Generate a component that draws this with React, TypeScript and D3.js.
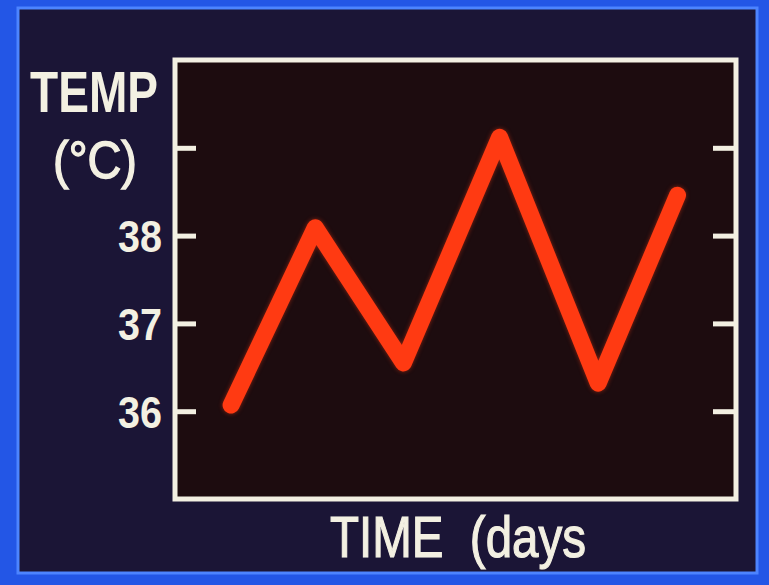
import React, { useEffect, useRef } from 'react';
import * as d3 from 'd3';

// readings
const days = [0.7, 1.75, 2.85, 4.05, 5.28, 6.27];
const temps = [36.07, 38.09, 36.55, 39.12, 36.32, 38.46];
const tempTicks = [36, 37, 38, 39];
const labelledTicks = [36, 37, 38];

const W = 769;
const H = 585;

const App: React.FC = () => {
  const svgRef = useRef<SVGSVGElement>(null);

  useEffect(() => {
    if (!svgRef.current) return;
    const svg = d3.select(svgRef.current);
    svg.selectAll('*').remove();

    const frame = { left: 175, right: 736, top: 60, bottom: 499 };
    const ink = '#f3f0e2';
    const font = '"Liberation Sans", Arial, Helvetica, sans-serif';

    // slide background: blue mount + dark field
    svg.append('rect').attr('width', W).attr('height', H).attr('fill', '#2356e6');
    svg.append('rect')
      .attr('x', 18).attr('y', 8)
      .attr('width', 757 - 18).attr('height', 573 - 8)
      .attr('fill', '#1b1536')
      .attr('stroke', '#4d84ff')
      .attr('stroke-width', 3);

    const x = d3.scaleLinear().domain([0, 7]).range([frame.left, frame.right]);
    const y = d3.scaleLinear().domain([35, 40]).range([frame.bottom, frame.top]);

    // plot field
    svg.append('rect')
      .attr('x', frame.left).attr('y', frame.top)
      .attr('width', frame.right - frame.left)
      .attr('height', frame.bottom - frame.top)
      .attr('fill', '#1d0c0f');

    // left axis, inward ticks
    const left = svg.append('g')
      .attr('transform', `translate(${frame.left},0)`)
      .call(
        d3.axisLeft(y)
          .tickValues(tempTicks)
          .tickSize(-21)
          .tickPadding(13)
          .tickFormat(d => (labelledTicks.includes(d as number) ? String(d) : ''))
      );
    left.select('.domain').remove();
    left.selectAll('line').attr('stroke', ink).attr('stroke-width', 5);
    left.selectAll('text')
      .attr('fill', ink)
      .attr('dy', '0.36em')
      .style('font-family', font)
      .style('font-size', '44px')
      .style('font-weight', 'bold')
      .attr('textLength', function () { return (this as SVGTextElement).textContent ? 44 : 0; })
      .attr('lengthAdjust', 'spacingAndGlyphs');

    // right axis, ticks only
    const right = svg.append('g')
      .attr('transform', `translate(${frame.right},0)`)
      .call(d3.axisRight(y).tickValues(tempTicks).tickSize(-23).tickFormat(() => ''));
    right.select('.domain').remove();
    right.selectAll('line').attr('stroke', ink).attr('stroke-width', 5);

    // frame
    svg.append('rect')
      .attr('x', frame.left).attr('y', frame.top)
      .attr('width', frame.right - frame.left)
      .attr('height', frame.bottom - frame.top)
      .attr('fill', 'none')
      .attr('stroke', ink)
      .attr('stroke-width', 5);

    // temperature trace
    const pts = days.map((d, i) => [d, temps[i]] as [number, number]);
    const line = d3.line<[number, number]>()
      .x(d => x(d[0]))
      .y(d => y(d[1]));

    svg.append('path')
      .datum(pts)
      .attr('fill', 'none')
      .attr('stroke', '#ff3a12')
      .attr('stroke-width', 17)
      .attr('stroke-linejoin', 'round')
      .attr('stroke-linecap', 'round')
      .attr('d', line)
      .style('filter', 'drop-shadow(0 0 2px rgba(255, 60, 20, 0.5))');

    // axis titles
    svg.append('text')
      .attr('x', 30).attr('y', 112)
      .attr('textLength', 128).attr('lengthAdjust', 'spacingAndGlyphs')
      .attr('fill', ink)
      .style('font-family', font).style('font-size', '58px').style('font-weight', 'bold')
      .text('TEMP');

    svg.append('text')
      .attr('x', 53).attr('y', 178)
      .attr('textLength', 84).attr('lengthAdjust', 'spacingAndGlyphs')
      .attr('fill', ink)
      .attr('stroke', ink).attr('stroke-width', 1.4)
      .style('font-family', font).style('font-size', '52px')
      .text('(°C)');

    svg.append('text')
      .attr('x', 330).attr('y', 557)
      .attr('textLength', 256).attr('lengthAdjust', 'spacingAndGlyphs')
      .attr('fill', ink)
      .attr('stroke', ink).attr('stroke-width', 1.2)
      .style('font-family', font).style('font-size', '58px')
      .style('white-space', 'pre')
      .text('TIME  (days');
  }, []);

  return (
    <div style={{ position: 'absolute', left: 0, top: 0, width: W, height: H }}>
      <svg ref={svgRef} width={W} height={H} />
    </div>
  );
};

export default App;
